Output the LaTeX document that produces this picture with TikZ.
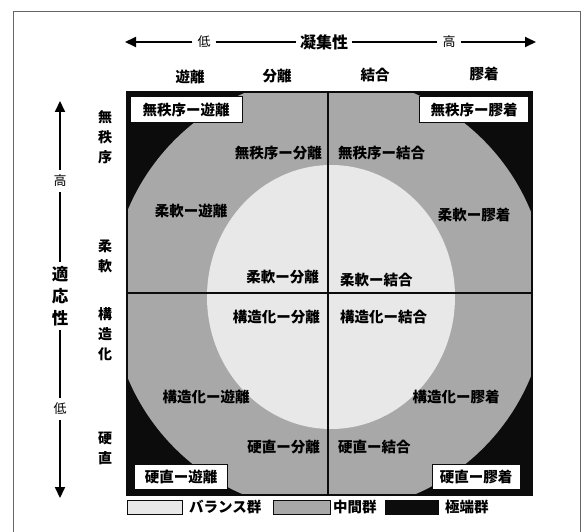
\documentclass[tikz,border=0pt]{standalone}
\usepackage{fontspec}
\newfontfamily\jp{Noto Sans CJK JP}
\usetikzlibrary{arrows.meta}
\definecolor{midg}{RGB}{168,168,168}
\definecolor{lightg}{RGB}{232,232,232}
\definecolor{blk}{RGB}{12,12,12}
\tikzset{
  lbl/.style={font=\jp\bfseries\fontsize{14.5}{16}\selectfont, inner sep=0pt},
  hdr/.style={font=\jp\bfseries\fontsize{14.5}{16}\selectfont, inner sep=0pt},
  vlbl/.style={font=\jp\bfseries\fontsize{14}{20}\selectfont, inner sep=0pt, align=center},
  axlbl/.style={font=\jp\fontsize{13}{16}\selectfont, inner sep=5pt},
  axbig/.style={font=\jp\bfseries\fontsize{16}{16}\selectfont, inner sep=4pt},
  axvbig/.style={font=\jp\bfseries\fontsize{16.5}{22}\selectfont, inner sep=4pt, align=center},
  arr/.style={line width=2pt, -{Triangle[length=11pt,width=10pt]}},
  seg/.style={line width=2pt},
  cbox/.style={lbl, fill=white, draw=blk, line width=1pt, inner xsep=4pt, inner ysep=4pt},
  legbox/.style={draw=blk, line width=1pt, minimum width=55pt, minimum height=14pt, inner sep=0pt},
  frm/.style={draw=black!60, line width=0.8pt},
  cross/.style={draw=blk, line width=2.6pt}
}
\begin{document}
\begin{tikzpicture}[x=1pt,y=-1pt]
\useasboundingbox (0,0) rectangle (581,532);
% outer frame
\coordinate (f1) at (13,532);
\coordinate (f2) at (13,11);
\coordinate (f3) at (580,11);
\coordinate (f4) at (580,532);
\draw[frm] (f1) -- (f2) -- (f3) -- (f4);
% main square
\begin{scope}
\clip (127,92) rectangle (532,495);
\fill[blk] (127,92) rectangle (532,495);
\fill[midg] (329,294) circle[radius=218];
\fill[lightg] (331,297) ellipse[x radius=124, y radius=132];
\end{scope}
\draw[blk, line width=1.5pt] (127,92) rectangle (532,495);
\coordinate (vt) at (328,92);
\coordinate (vb) at (328,495);
\coordinate (hl) at (127,293);
\coordinate (hr) at (532,293);
\draw[cross] (vt) -- (vb);
\draw[cross] (hl) -- (hr);
% corner boxes
\node[cbox, minimum width=112pt, minimum height=26pt] (c1) at (186,110) {無秩序ー遊離};
\node[cbox, minimum width=109pt, minimum height=26pt] (c2) at (474,110) {無秩序ー膠着};
\node[cbox, minimum width=93pt, minimum height=25pt] (c3) at (181,477) {硬直ー遊離};
\node[cbox, minimum width=88pt, minimum height=25pt] (c4) at (476,477) {硬直ー膠着};
% inner labels
\node[lbl, anchor=east] (l1) at (322,153) {無秩序ー分離};
\node[lbl, anchor=west] (l2) at (338,153) {無秩序ー結合};
\node[lbl] (l3) at (191,211) {柔軟ー遊離};
\node[lbl] (l4) at (474,215) {柔軟ー膠着};
\node[lbl, anchor=east] (l5) at (319,277) {柔軟ー分離};
\node[lbl, anchor=west] (l6) at (340,280) {柔軟ー結合};
\node[lbl, anchor=east] (l7) at (320,317) {構造化ー分離};
\node[lbl, anchor=west] (l8) at (340,317) {構造化ー結合};
\node[lbl] (l9) at (206,397) {構造化ー遊離};
\node[lbl] (l10) at (456,397) {構造化ー膠着};
\node[lbl, anchor=east] (l11) at (320,447) {硬直ー分離};
\node[lbl, anchor=west] (l12) at (338,447) {硬直ー結合};
% column headers
\node[hdr] (h1) at (190,77) {遊離};
\node[hdr] (h2) at (277,76) {分離};
\node[hdr] (h3) at (375,75) {結合};
\node[hdr] (h4) at (484,74) {膠着};
% row headers
\node[vlbl] (r1) at (105,137) {無\\秩\\序};
\node[vlbl] (r2) at (105,256) {柔\\軟};
\node[vlbl] (r3) at (105,334) {構\\造\\化};
\node[vlbl] (r4) at (105,448) {硬\\直};
% top axis
\coordinate (tl) at (125,42);
\coordinate (tr) at (536,42);
\node[axlbl] (tlo) at (204,42) {低};
\node[axbig] (tmid) at (324,42) {凝集性};
\node[axlbl] (thi) at (449,42) {高};
\draw[arr] (tlo) -- (tl);
\draw[seg] (tlo) -- (tmid);
\draw[seg] (tmid) -- (thi);
\draw[arr] (thi) -- (tr);
% left axis
\coordinate (lt) at (60,101);
\coordinate (lb) at (60,498);
\node[axlbl] (lhi) at (60,181) {高};
\node[axvbig] (lmid) at (60,296) {適\\応\\性};
\node[axlbl] (llo) at (60,409) {低};
\draw[arr] (lhi) -- (lt);
\draw[seg] (lhi) -- (lmid);
\draw[seg] (lmid) -- (llo);
\draw[arr] (llo) -- (lb);
% legend
\node[legbox, fill=lightg, anchor=west] (g1) at (127,507) {};
\node[hdr, anchor=west] (g1t) at (189,507) {バランス群};
\node[legbox, fill=midg, anchor=west, minimum width=57pt] (g2) at (273,507) {};
\node[hdr, anchor=west] (g2t) at (333,507) {中間群};
\node[legbox, fill=blk, anchor=west, minimum width=53pt] (g3) at (385,507) {};
\node[hdr, anchor=west] (g3t) at (445,507) {極端群};
\end{tikzpicture}
\end{document}
